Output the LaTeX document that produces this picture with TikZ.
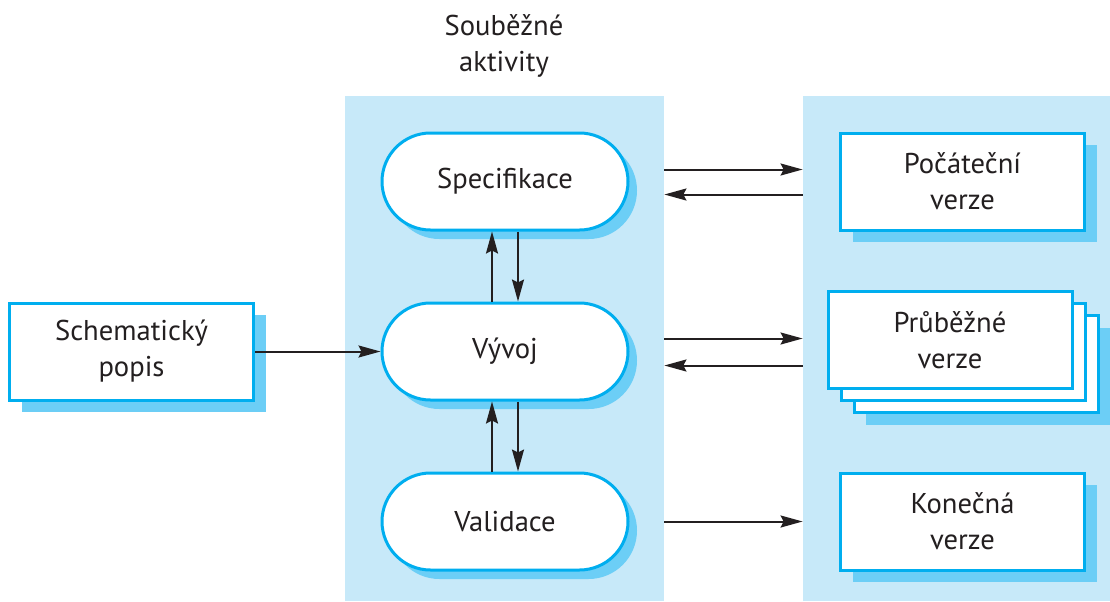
\documentclass[tikz,border=0pt]{standalone}
\usepackage{fontspec}
\setmainfont{PT Sans}
\usetikzlibrary{arrows.meta,shadows,calc}
\definecolor{panelcol}{RGB}{199,233,249}
\definecolor{edgecol}{RGB}{0,174,239}
\definecolor{shadecol}{RGB}{108,206,246}
\definecolor{inkcol}{RGB}{35,31,32}
\tikzset{
  panel/.style={rectangle,fill=panelcol,inner sep=0pt,minimum height=252.5pt},
  txt/.style={font=\fontsize{14.3}{18}\selectfont,text=inkcol,align=center},
  act/.style={txt,rectangle,rounded corners=24.25pt,draw=edgecol,fill=white,line width=1.5pt,
    minimum width=123pt,minimum height=48.5pt,
    drop shadow={shadow xshift=4.5pt,shadow yshift=-4.5pt,fill=shadecol,opacity=1}},
  doc/.style={txt,rectangle,draw=edgecol,fill=white,line width=1.5pt,
    minimum width=122pt,minimum height=48.5pt},
  docshade/.style={drop shadow={shadow xshift=6pt,shadow yshift=-6pt,fill=shadecol,opacity=1}},
  arr/.style={draw=inkcol,line width=1pt,-{Stealth[length=11pt,width=6pt,inset=1.5pt]}},
}

\begin{document}
\begin{tikzpicture}[x=0.5pt,y=0.5pt]
  \useasboundingbox (0,0) rectangle (1110,-601);
  \node[panel,minimum width=159.5pt] (mid) at (504.5,-348.5) {};
  \node[panel,minimum width=153.5pt] (side) at (956.5,-348.5) {};
  \node[txt] (title) at (504,-46) {Souběžné\\aktivity};

  \node[act] (spec) at (505,-181.5) {Specifikace};
  \node[act] (vyvoj) at (505,-351.5) {Vývoj};
  \node[act] (valid) at (505,-521.5) {Validace};

  \node[doc,docshade] (schema) at (131.5,-351.5) {Schematický\\popis};
  \node[doc,docshade] (pocat) at (962.5,-181.5) {Počáteční\\verze};
  \node[doc,docshade] (prubC) at (976,-364) {};
  \node[doc] (prubB) at (963,-352) {};
  \node[doc] (prubA) at (950,-340) {Průběžné\\verze};
  \node[doc,docshade] (konec) at (962.5,-521.5) {Konečná\\verze};

  \draw[arr] (schema.east) -- (schema.east -| vyvoj.west);

  \draw[arr] ($(vyvoj.north)+(-6.5pt,0)$) -- ($(spec.south)+(-6.5pt,0)$);
  \draw[arr] ($(spec.south)+(6.5pt,0)$) -- ($(vyvoj.north)+(6.5pt,0)$);
  \draw[arr] ($(valid.north)+(-6.5pt,0)$) -- ($(vyvoj.south)+(-6.5pt,0)$);
  \draw[arr] ($(vyvoj.south)+(6.5pt,0)$) -- ($(valid.north)+(6.5pt,0)$);

  \draw[arr] ($(spec.east -| mid.east)+(0,6pt)$) -- ($(spec.east -| side.west)+(0,6pt)$);
  \draw[arr] ($(spec.east -| side.west)+(0,-6.5pt)$) -- ($(spec.east -| mid.east)+(0,-6.5pt)$);
  \draw[arr] ($(vyvoj.east -| mid.east)+(0,6.5pt)$) -- ($(vyvoj.east -| side.west)+(0,6.5pt)$);
  \draw[arr] ($(vyvoj.east -| side.west)+(0,-7pt)$) -- ($(vyvoj.east -| mid.east)+(0,-7pt)$);
  \draw[arr] (valid.east -| mid.east) -- (valid.east -| side.west);
\end{tikzpicture}
\end{document}
